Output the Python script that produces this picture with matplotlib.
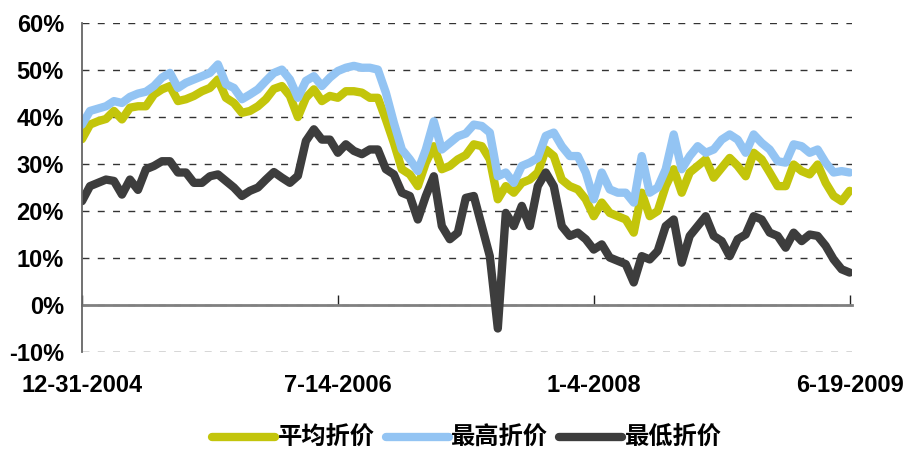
import numpy as np
import matplotlib.pyplot as plt

plt.rcParams['font.family'] = ['Liberation Sans', 'Noto Sans CJK SC', 'DejaVu Sans']
plt.rcParams['font.weight'] = 'bold'

# 折价率 (%)，按周取样
avg_disc = [35.3, 38.4, 39.1, 39.6, 41.3, 39.5, 42.0, 42.3, 42.3, 44.8,
            45.9, 46.6, 43.4, 43.8, 44.5, 45.5, 46.2, 48.0, 44.1, 43.0,
            40.9, 41.3, 42.3, 43.8, 46.0, 46.6, 44.5, 40.0, 44.1, 45.9,
            43.4, 44.5, 44.1, 45.5, 45.5, 45.2, 44.1, 44.1, 39.5, 34.5,
            28.9, 27.8, 25.3, 30.3, 33.8, 28.9, 29.6, 31.0, 31.9, 34.2,
            33.8, 31.0, 22.5, 25.3, 23.9, 26.0, 26.7, 28.2, 33.1, 31.7,
            26.7, 25.3, 24.6, 22.5, 18.9, 21.8, 19.6, 18.9, 18.2, 15.4,
            23.9, 18.9, 20.0, 25.3, 28.9, 23.9, 28.2, 29.6, 31.0, 27.1,
            29.2, 31.3, 29.6, 27.4, 32.4, 31.0, 28.2, 25.3, 25.3, 29.9,
            28.5, 27.8, 29.9, 26.0, 23.2, 22.1, 24.3]
max_disc = [38.4, 41.3, 41.8, 42.3, 43.4, 43.0, 44.3, 45.0, 45.4, 46.6,
            48.4, 49.4, 46.2, 47.3, 48.0, 48.7, 49.4, 51.2, 47.0, 46.2,
            43.8, 44.8, 45.9, 47.7, 49.4, 50.1, 48.0, 44.1, 47.7, 48.7,
            46.6, 48.4, 49.8, 50.5, 50.9, 50.5, 50.5, 50.1, 45.2, 38.8,
            33.1, 31.0, 28.5, 33.1, 39.1, 33.1, 34.5, 35.9, 36.5, 38.4,
            38.1, 36.7, 27.4, 28.2, 26.0, 29.6, 30.3, 31.3, 36.0, 36.7,
            33.8, 31.7, 31.7, 28.2, 22.5, 28.2, 24.6, 23.9, 23.9, 21.8,
            31.7, 23.9, 25.0, 28.9, 36.3, 28.9, 31.7, 33.8, 32.4, 33.1,
            35.2, 36.3, 35.2, 32.4, 36.3, 34.5, 33.1, 30.6, 30.3, 34.2,
            33.8, 32.4, 33.1, 30.3, 28.2, 28.5, 28.2]
min_disc = [22.1, 25.3, 26.0, 26.7, 26.4, 23.5, 26.7, 24.5, 28.9, 29.6,
            30.6, 30.6, 28.2, 28.2, 26.0, 26.0, 27.4, 27.8, 26.4, 25.0,
            23.2, 24.3, 25.0, 26.7, 28.3, 27.1, 26.0, 27.5, 34.9, 37.4,
            35.2, 35.2, 32.4, 34.2, 32.8, 32.1, 33.1, 33.1, 28.9, 27.8,
            23.9, 23.2, 18.2, 23.2, 27.4, 16.8, 14.0, 15.4, 22.8, 23.2,
            16.8, 10.4, -5.0, 19.6, 16.8, 21.1, 16.8, 25.3, 28.2, 25.3,
            16.8, 14.7, 15.4, 14.0, 11.8, 12.9, 10.1, 9.4, 8.7, 4.8,
            10.4, 9.7, 11.5, 16.8, 18.2, 9.0, 14.7, 16.8, 18.9, 14.7,
            13.6, 10.4, 14.0, 15.0, 18.9, 18.2, 15.4, 14.7, 12.2, 15.4,
            13.6, 15.0, 14.7, 12.6, 9.7, 7.6, 6.9]
series_names = ['平均折价', '最高折价', '最低折价']
series_colors = ['#C3C50B', '#93C4F3', '#3D3D3D']
tick_pos = [0, 32, 64, 96]
tick_labels = ['12-31-2004', '7-14-2006', '1-4-2008', '6-19-2009']

week = np.arange(len(avg_disc))

fig = plt.figure(figsize=(9.07, 4.53), dpi=100)
ax = fig.add_axes([0.0904, 0.223, 0.849, 0.726])

for vals, name, col in zip([avg_disc, max_disc, min_disc], series_names, series_colors):
    ax.plot(week, vals, color=col, lw=6, label=name,
            solid_capstyle='round', solid_joinstyle='round')

ax.set_ylim(-10, 60)
ax.set_xlim(0, 96.3)
ax.set_yticks(range(-10, 61, 10))
ax.set_yticklabels([f'{v}%' for v in range(-10, 61, 10)], fontsize=17, fontweight='bold')
ax.yaxis.grid(True, color='#333333', lw=1.0, linestyle=(0, (5, 6)))
ax.set_axisbelow(True)
ax.tick_params(axis='y', length=0, pad=13)

# 横轴放在0%处，刻度朝上
for s in ['top', 'right']:
    ax.spines[s].set_visible(False)
ax.spines['bottom'].set_position(('data', 0))
ax.spines['bottom'].set_color('#808080')
ax.spines['bottom'].set_linewidth(2)
ax.spines['bottom'].set_zorder(1)
ax.spines['left'].set_color('#666666')
ax.spines['left'].set_linewidth(1.3)

ax.set_xticks(tick_pos)
ax.set_xticklabels(tick_labels, fontsize=17, fontweight='bold')
ax.tick_params(axis='x', direction='in', length=7, width=1, color='#222222', pad=50)

leg = ax.legend(loc='center', bbox_to_anchor=(0.5, -0.262), ncol=3, frameon=False,
                prop={'family': ['Noto Sans CJK SC', 'DejaVu Sans'], 'size': 17.5, 'weight': 'bold'},
                handlelength=2.6, handletextpad=0.1, columnspacing=0.45, borderpad=0.1)

fig.savefig('out.png', dpi=100)
